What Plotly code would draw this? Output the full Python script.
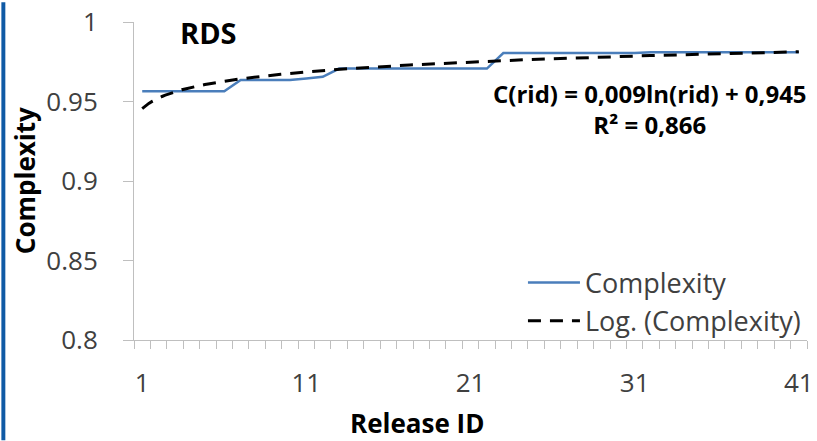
import numpy as np
import plotly.graph_objects as go

# ---- data ----
release_id = list(range(1, 42))
complexity = ([0.9565] * 6 + [0.9635] * 4 + [0.9645, 0.9655] + [0.9707] * 10
              + [0.9805] * 9 + [0.981] * 10)
x_tick_vals = [1, 11, 21, 31, 41]
x_tick_text = ["1", "11", "21", "31", "41"]
y_tick_vals = [0.8, 0.85, 0.9, 0.95, 1.0]
y_tick_text = ["0.8", "0.85", "0.9", "0.95", "1"]
title_text = "RDS"
eq_text = "C(rid) = 0,009ln(rid) + 0,945<br>R² = 0,866"

# logarithmic trendline fitted to the data (as Excel does)
b, a = np.polyfit(np.log(release_id), complexity, 1)
trend_x = np.linspace(1, 41, 200)
trend_y = a + b * np.log(trend_x)

FONT = "Open Sans"
L, R, T, B = 134, 3, 20, 101
W, H = 817, 441
pw = W - L - R
ph = H - T - B

def px(xp):
    return (xp - L) / pw

def py(yp):
    return (H - B - yp) / ph

fig = go.Figure()
fig.add_trace(go.Scatter(
    x=release_id, y=complexity, mode="lines", name="Complexity",
    line=dict(color="#4a7ebb", width=2.5)))
fig.add_trace(go.Scatter(
    x=trend_x, y=trend_y, mode="lines", name="Log. (Complexity)",
    line=dict(color="black", width=3, dash="13px,9px")))

fig.update_layout(
    width=W, height=H,
    margin=dict(l=L, r=R, t=T, b=B, pad=0),
    paper_bgcolor="white", plot_bgcolor="white",
    font=dict(family=FONT, size=26, color="#404040"),
    showlegend=True,
    legend=dict(x=px(527), y=py(258), xanchor="left", yanchor="top",
                bgcolor="rgba(0,0,0,0)", font=dict(family=FONT, size=27, color="#404040"),
                itemwidth=52, tracegroupgap=0),
    xaxis=dict(range=[0.5, 41.5], showgrid=False, zeroline=False,
               showline=True, linecolor="#bfbfbf", linewidth=1,
               tickmode="array", tickvals=x_tick_vals, ticktext=x_tick_text,
               ticks="", ticklen=0, ticklabelstandoff=20,
               ticklabeloverflow="allow",
               tickfont=dict(family=FONT, size=26, color="#404040"),
               minor=dict(tick0=0.5, dtick=1, ticks="outside", ticklen=8,
                          tickcolor="#bfbfbf", showgrid=False)),
    yaxis=dict(range=[0.8, 1.0], showgrid=False, zeroline=False,
               showline=True, linecolor="#bfbfbf", linewidth=1,
               tickmode="array", tickvals=y_tick_vals, ticktext=y_tick_text,
               ticks="outside", ticklen=10, tickcolor="#bfbfbf",
               ticklabelstandoff=20,
               tickfont=dict(family=FONT, size=26, color="#404040")),
)

fig.add_annotation(xref="paper", yref="paper", x=px(209), y=py(31),
                   text="<b>" + title_text + "</b>", showarrow=False,
                   xanchor="center", yanchor="middle",
                   font=dict(family=FONT, size=29, color="black"))
fig.add_annotation(xref="paper", yref="paper", x=px(655), y=py(108),
                   text="<b>" + eq_text.replace("<br>", "</b><br><b>") + "</b>",
                   showarrow=False, align="center",
                   xanchor="center", yanchor="middle",
                   font=dict(family=FONT, size=24, color="black"))
fig.add_annotation(xref="paper", yref="paper", x=px(24), y=py(180),
                   text="<b>Complexity</b>", showarrow=False, textangle=-90,
                   xanchor="center", yanchor="middle",
                   font=dict(family=FONT, size=26, color="black"))
fig.add_annotation(xref="paper", yref="paper", x=px(420), y=py(424),
                   text="<b>Release ID</b>", showarrow=False,
                   xanchor="center", yanchor="middle",
                   font=dict(family=FONT, size=26, color="black"))
# left frame edge
fig.add_shape(type="rect", xref="paper", yref="paper",
              x0=px(0), x1=px(4), y0=py(H), y1=py(0),
              fillcolor="#0f5aa5", line=dict(width=0), layer="above")

fig.write_html("out.html", config={"displayModeBar": False})
with open("out.html", "r", encoding="utf-8") as f:
    html = f.read()
html = html.replace("<body>", '<body style="margin:0;padding:0;overflow:hidden">', 1)
with open("out.html", "w", encoding="utf-8") as f:
    f.write(html)
